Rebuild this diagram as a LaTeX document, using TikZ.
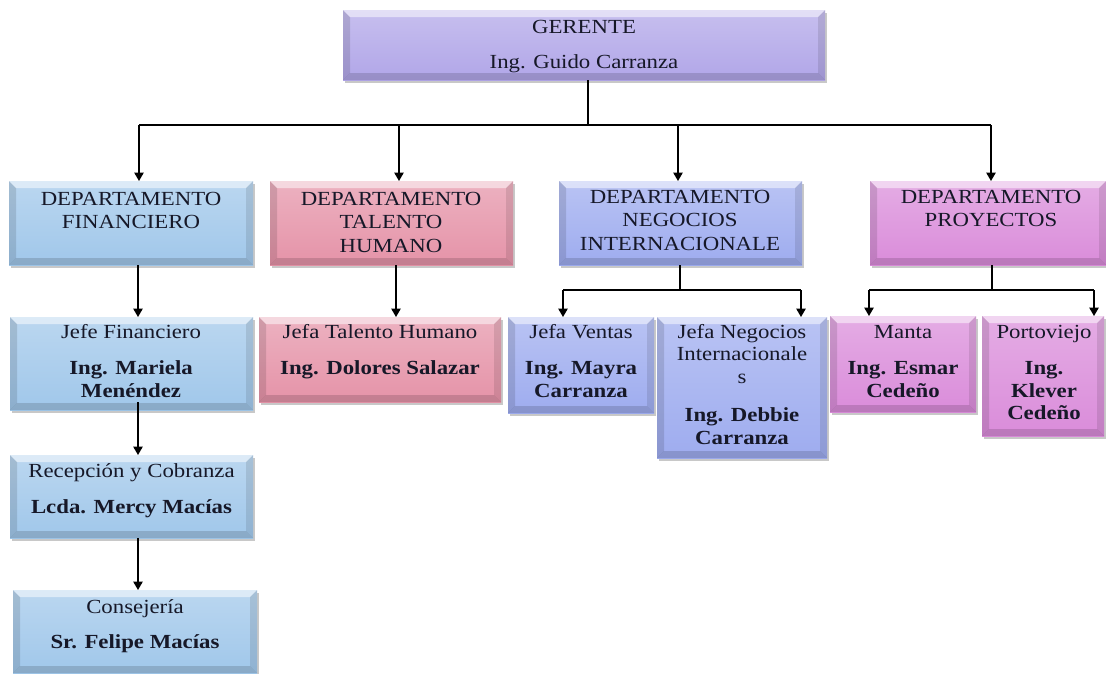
\documentclass[tikz,border=0pt]{standalone}
\usepackage{fontspec}
\setmainfont{Liberation Serif}[FakeStretch=1.14]
\usetikzlibrary{arrows.meta,shadows}
\definecolor{cG}{HTML}{B1A6E8}
\definecolor{cF}{HTML}{A0C7EA}
\definecolor{cT}{HTML}{E593A8}
\definecolor{cN}{HTML}{9EACEF}
\definecolor{cP}{HTML}{DA8CDA}
\definecolor{ink}{HTML}{161828}
\tikzset{
  orgbox/.style={draw=none, inner sep=0pt, outer sep=0pt,
    top color=#1!72!white, bottom color=#1,
    drop shadow={shadow xshift=1.5pt, shadow yshift=-2.5pt, opacity=0.3, fill=black!70},
    path picture={
      \path (path picture bounding box.north west) coordinate (bNW)
            (path picture bounding box.north east) coordinate (bNE)
            (path picture bounding box.south west) coordinate (bSW)
            (path picture bounding box.south east) coordinate (bSE);
      \fill[white,opacity=0.5] (bNW) -- (bNE) -- ([shift={(-7pt,-7pt)}]bNE) -- ([shift={(7pt,-7pt)}]bNW) -- cycle;
      \fill[black,opacity=0.12] (bNW) -- ([shift={(7pt,-7pt)}]bNW) -- ([shift={(7pt,7pt)}]bSW) -- (bSW) -- cycle;
      \fill[black,opacity=0.10] (bNE) -- (bSE) -- ([shift={(-7pt,7pt)}]bSE) -- ([shift={(-7pt,-7pt)}]bNE) -- cycle;
      \fill[black,opacity=0.14] (bSW) -- ([shift={(7pt,7pt)}]bSW) -- ([shift={(-7pt,7pt)}]bSE) -- (bSE) -- cycle;
    }},
  lbl/.style={inner sep=0pt, outer sep=0pt, align=center, text=ink, anchor=north,
    font=\fontsize{20}{22.5}\selectfont},
  deptlbl/.style={lbl, font=\fontsize{20}{23.5}\selectfont},
  ln/.style={line width=1.3pt, draw=black},
  arr/.style={ln, -{Triangle[width=9.5pt,length=8.5pt]}},
}
\newcommand{\fst}{\rule{0pt}{16pt}}
\begin{document}
\begin{tikzpicture}[x=1pt,y=-1pt]
\useasboundingbox (0,0) rectangle (1106,673);
\fill[white] (0,0) rectangle (1106,673);

% boxes
\node[orgbox=cG, minimum width=482pt, minimum height=70pt] (g) at (584,45) {};
\node[orgbox=cF, minimum width=244pt, minimum height=84pt] (fin) at (131,223) {};
\node[orgbox=cT, minimum width=243pt, minimum height=84pt] (th) at (391.5,223) {};
\node[orgbox=cN, minimum width=243pt, minimum height=84pt] (ni) at (680.5,223) {};
\node[orgbox=cP, minimum width=236pt, minimum height=84pt] (pr) at (988,223) {};
\node[orgbox=cF, minimum width=243pt, minimum height=93pt] (jf) at (131.5,363.5) {};
\node[orgbox=cT, minimum width=242pt, minimum height=85pt] (th2) at (380,359.5) {};
\node[orgbox=cN, minimum width=146pt, minimum height=96pt] (ve) at (581,365) {};
\node[orgbox=cN, minimum width=170pt, minimum height=141pt] (ni2) at (742,387.5) {};
\node[orgbox=cP, minimum width=146pt, minimum height=96pt] (ma) at (903,364) {};
\node[orgbox=cP, minimum width=122pt, minimum height=120pt] (po) at (1043,376) {};
\node[orgbox=cF, minimum width=243pt, minimum height=83pt] (rec) at (131.5,496.5) {};
\node[orgbox=cF, minimum width=244pt, minimum height=83pt] (co) at (135,631.5) {};

% texts
\node[lbl] (tg) at (584,17) {\fst GERENTE\\[12.5pt]Ing. Guido Carranza};
\node[deptlbl] (tfin) at (131,189) {\fst DEPARTAMENTO\\FINANCIERO};
\node[deptlbl] (tth) at (391,189) {\fst DEPARTAMENTO\\TALENTO\\HUMANO};
\node[deptlbl] (tni) at (680,187) {\fst DEPARTAMENTO\\NEGOCIOS\\INTERNACIONALE};
\node[deptlbl] (tpr) at (991,187) {\fst DEPARTAMENTO\\PROYECTOS};
\node[lbl] (tjf) at (131,322) {\fst Jefe Financiero\\[14pt]\textbf{Ing. Mariela}\\\textbf{Menéndez}};
\node[lbl] (tth2) at (380,322) {\fst Jefa Talento Humano\\[14pt]\textbf{Ing. Dolores Salazar}};
\node[lbl] (tve) at (581,322) {\fst Jefa Ventas\\[14pt]\textbf{Ing. Mayra}\\\textbf{Carranza}};
\node[lbl] (tni2) at (742,322) {\fst Jefa Negocios\\Internacionale\\s\\[16pt]\textbf{Ing. Debbie}\\\textbf{Carranza}};
\node[lbl] (tma) at (903,322) {\fst Manta\\[14pt]\textbf{Ing. Esmar}\\\textbf{Cedeño}};
\node[lbl] (tpo) at (1044,322) {\fst Portoviejo\\[14pt]\textbf{Ing.}\\\textbf{Klever}\\\textbf{Cedeño}};
\node[lbl] (trec) at (131.5,461) {\fst Recepción y Cobranza\\[14pt]\textbf{Lcda. Mercy Macías}};
\node[lbl] (tco) at (135,597) {\fst Consejería\\[13pt]\textbf{Sr. Felipe Macías}};

% top level connectors
\coordinate (busL) at (139,125);
\coordinate (busR) at (991,125);
\coordinate (dT) at (399,125);
\coordinate (dN) at (678,125);
\draw[ln] ([xshift=4pt]g.south) -- ([xshift=4pt]g.south |- busL);
\draw[ln] (busL) -- (busR);
\draw[arr] (busL) -- (busL |- fin.north);
\draw[arr] (dT) -- (dT |- th.north);
\draw[arr] (dN) -- (dN |- ni.north);
\draw[arr] (busR) -- (busR |- pr.north);

% financiero chain
\draw[arr] ([xshift=7pt]fin.south) -- ([xshift=7pt]fin.south |- jf.north);
\draw[arr] ([xshift=6.5pt,yshift=8pt]jf.south) -- ([xshift=6.5pt]jf.south |- rec.north);
\draw[arr] ([xshift=6.5pt]rec.south) -- ([xshift=6.5pt]rec.south |- co.north);

% talento humano
\draw[arr] ([xshift=4.5pt]th.south) -- ([xshift=4.5pt]th.south |- th2.north);

% negocios internacionales
\coordinate (nL) at (563,290);
\coordinate (nR) at (801,290);
\draw[ln] ([xshift=-0.5pt]ni.south) -- ([xshift=-0.5pt]ni.south |- nL);
\draw[ln] (nL) -- (nR);
\draw[arr] (nL) -- (nL |- ve.north);
\draw[arr] (nR) -- (nR |- ni2.north);

% proyectos
\coordinate (pL) at (869,290);
\coordinate (pR) at (1094,290);
\draw[ln] ([xshift=4pt]pr.south) -- ([xshift=4pt]pr.south |- pL);
\draw[ln] (pL) -- (pR);
\draw[arr] (pL) -- (pL |- ma.north);
\draw[arr] (pR) -- (pR |- po.north);
\end{tikzpicture}
\end{document}
